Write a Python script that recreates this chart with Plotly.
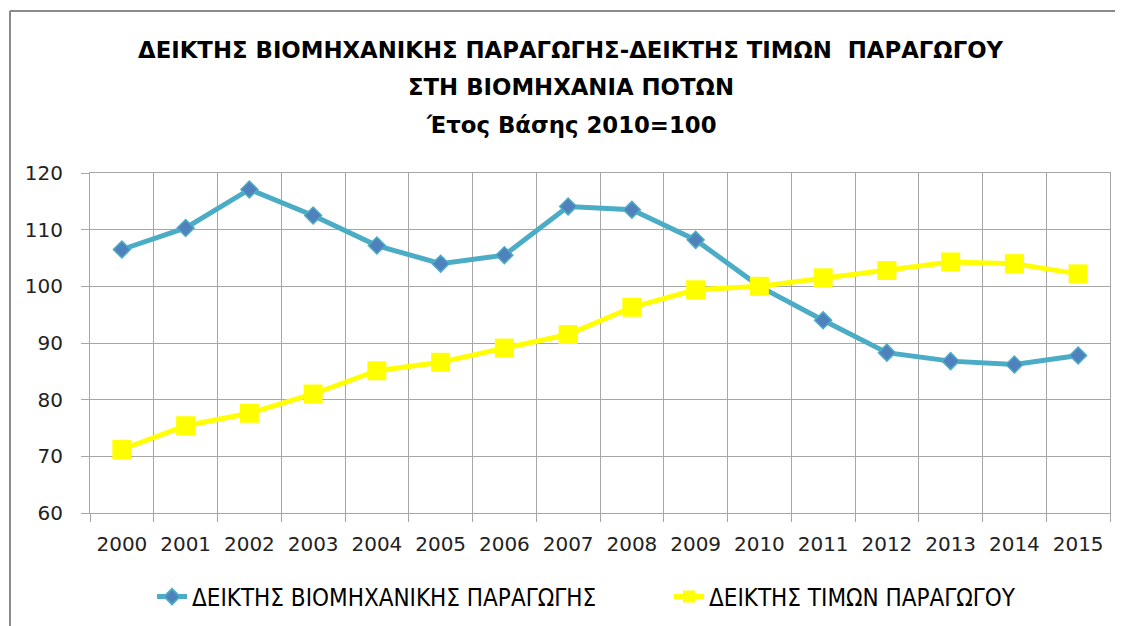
import plotly.graph_objects as go

years = [str(y) for y in range(2000, 2016)]
production_index = [106.5, 110.3, 117.1, 112.5, 107.2, 104.0, 105.5, 114.1,
                    113.5, 108.2, 100.0, 94.0, 88.3, 86.8, 86.2, 87.8]
price_index = [71.2, 75.4, 77.6, 81.0, 85.1, 86.6, 89.1, 91.5,
               96.3, 99.4, 100.0, 101.5, 102.8, 104.3, 104.0, 102.2]
y_ticks = [60, 70, 80, 90, 100, 110, 120]

title_lines = [
    "ΔΕΙΚΤΗΣ ΒΙΟΜΗΧΑΝΙΚΗΣ ΠΑΡΑΓΩΓΗΣ-ΔΕΙΚΤΗΣ ΤΙΜΩΝ  ΠΑΡΑΓΩΓΟΥ",
    "ΣΤΗ ΒΙΟΜΗΧΑΝΙΑ ΠΟΤΩΝ",
    "Έτος Βάσης 2010=100",
]
series_names = ["ΔΕΙΚΤΗΣ ΒΙΟΜΗΧΑΝΙΚΗΣ ΠΑΡΑΓΩΓΗΣ", "ΔΕΙΚΤΗΣ ΤΙΜΩΝ ΠΑΡΑΓΩΓΟΥ"]

# page has an 8px body margin; work in page pixels and convert
OFF = 8
W, H = 1123 - OFF, 626 - OFF
PL, PR, PT, PB = 90, 1110, 173, 513      # plot area in page pixels
L, R, T, B = PL - OFF, (W + OFF) - PR, PT - OFF, (H + OFF) - PB
PH = PB - PT
PW = PR - PL

def py(pix):
    return (PB - pix) / PH

def px_(pix):
    return (pix - PL) / PW

fig = go.Figure()
fig.add_trace(go.Scatter(
    x=years, y=production_index, name=series_names[0], mode="lines+markers",
    line=dict(color="#4BACC6", width=5),
    marker=dict(symbol="diamond", size=13, color="#4F81BD",
                line=dict(color="#4BACC6", width=1.5)),
    legend="legend",
))
fig.add_trace(go.Scatter(
    x=years, y=price_index, name=series_names[1], mode="lines+markers",
    line=dict(color="#FFFF00", width=5),
    marker=dict(symbol="square", size=19, color="#FFFF00",
                line=dict(color="#FFFF00", width=0)),
    legend="legend2",
))

title_y = [50, 87, 125]
for txt, yy in zip(title_lines, title_y):
    fig.add_annotation(text="<b>%s</b>" % txt, x=px_(571), y=py(yy),
                       xref="paper", yref="paper", showarrow=False,
                       xanchor="center", yanchor="middle",
                       font=dict(family="DejaVu Sans", size=22.8, color="#000000"))

frame_col = "#8A8A8A"
fig.add_shape(type="line", xref="paper", yref="paper",
              x0=px_(10), x1=px_(10), y0=py(11), y1=py(640),
              line=dict(color=frame_col, width=2))
fig.add_shape(type="line", xref="paper", yref="paper",
              x0=px_(10), x1=px_(1130), y0=py(11), y1=py(11),
              line=dict(color=frame_col, width=2))

legend_font = dict(family="DejaVu Sans Condensed, DejaVu Sans", size=24, color="#000000")
grid_col = "#A6A6A6"
fig.update_layout(
    width=W, height=H,
    margin=dict(l=L, r=R, t=T, b=B, autoexpand=False),
    paper_bgcolor="white", plot_bgcolor="white",
    showlegend=True,
    legend=dict(orientation="h", x=px_(152), y=py(597), xanchor="left", yanchor="middle",
                font=legend_font, itemsizing="constant", bgcolor="rgba(0,0,0,0)"),
    legend2=dict(orientation="h", x=px_(669), y=py(597), xanchor="left", yanchor="middle",
                 font=legend_font, itemsizing="constant", bgcolor="rgba(0,0,0,0)"),
    font=dict(family="DejaVu Sans", color="#222222"),
)
fig.update_xaxes(type="category", range=[-0.5, len(years) - 0.5],
                 tickson="boundaries", showgrid=True, gridcolor=grid_col,
                 gridwidth=1, showline=True, linecolor=grid_col, linewidth=1, mirror=True,
                 ticks="outside", ticklen=8, tickcolor=grid_col, automargin=False,
                 tickangle=0,
                 tickfont=dict(family="DejaVu Sans", size=20, color="#222222"),
                 ticklabelstandoff=13)
fig.update_yaxes(range=[60, 120], tickvals=y_ticks, showgrid=True, gridcolor=grid_col,
                 gridwidth=1, showline=True, linecolor=grid_col, linewidth=1, mirror=True,
                 ticks="outside", ticklen=8, tickcolor=grid_col, zeroline=False,
                 automargin=False,
                 tickfont=dict(family="DejaVu Sans", size=20, color="#222222"),
                 ticklabelstandoff=14)

fig.write_html("out.html")
